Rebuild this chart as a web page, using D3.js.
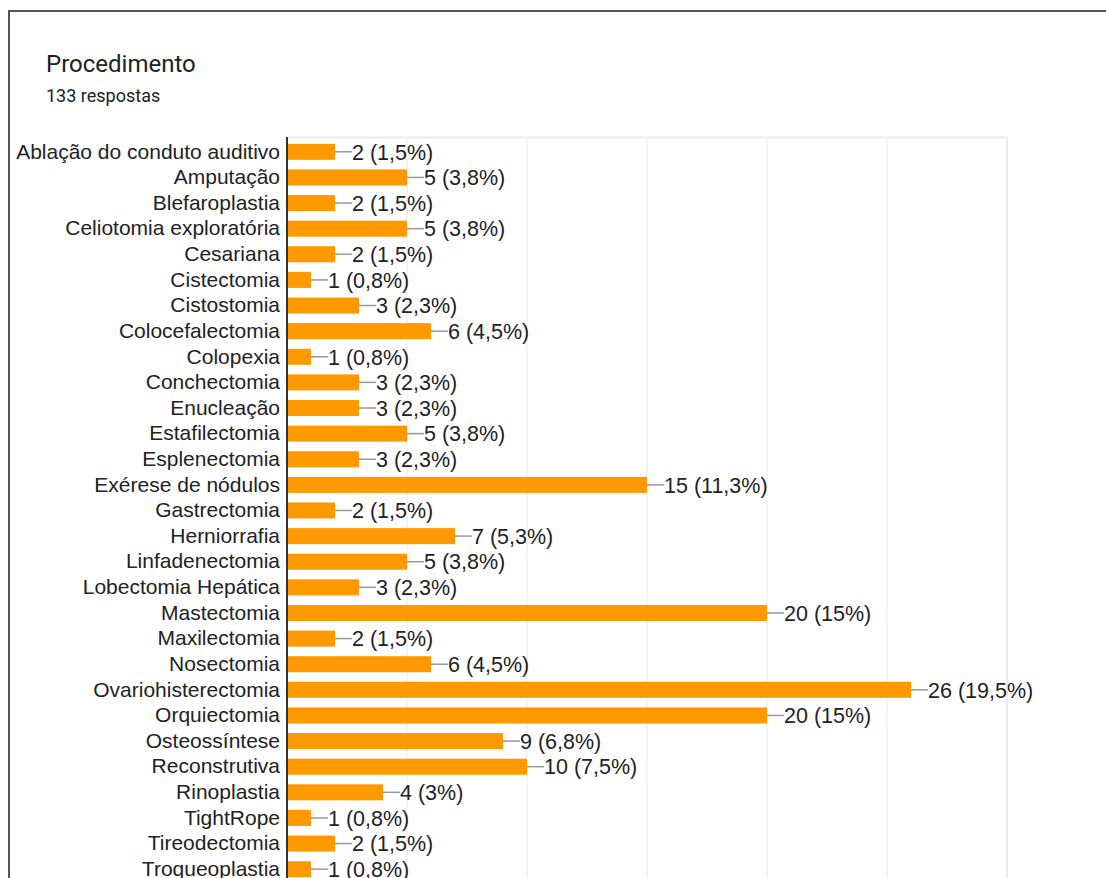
<!DOCTYPE html>
<html><head><meta charset="utf-8">
<script src="https://cdn.jsdelivr.net/npm/d3@7"></script>
<style>
html,body{margin:0;padding:0;background:#fff;overflow:hidden;}
svg{display:block;font-family:"Liberation Sans", Arial, sans-serif;}
</style></head>
<body>
<svg id="c" width="1106" height="878"></svg>
<script>
const categories = ["Ablação do conduto auditivo","Amputação","Blefaroplastia","Celiotomia exploratória","Cesariana","Cistectomia","Cistostomia","Colocefalectomia","Colopexia","Conchectomia","Enucleação","Estafilectomia","Esplenectomia","Exérese de nódulos","Gastrectomia","Herniorrafia","Linfadenectomia","Lobectomia Hepática","Mastectomia","Maxilectomia","Nosectomia","Ovariohisterectomia","Orquiectomia","Osteossíntese","Reconstrutiva","Rinoplastia","TightRope","Tireodectomia","Troqueoplastia"];
const counts = [2,5,2,5,2,1,3,6,1,3,3,5,3,15,2,7,5,3,20,2,6,26,20,9,10,4,1,2,1];
const percentLabels = ["1,5%","3,8%","1,5%","3,8%","1,5%","0,8%","2,3%","4,5%","0,8%","2,3%","2,3%","3,8%","2,3%","11,3%","1,5%","5,3%","3,8%","2,3%","15%","1,5%","4,5%","19,5%","15%","6,8%","7,5%","3%","0,8%","1,5%","0,8%"];
const xTicks = [0,5,10,15,20,25,30];
const title = "Procedimento";
const subtitle = "133 respostas";

const svg = d3.select("#c");
// card border
svg.append("rect").attr("x",9).attr("y",11).attr("width",1200).attr("height",1000)
  .attr("fill","none").attr("stroke","#555").attr("stroke-width",2);
svg.append("text").attr("x",46).attr("y",71.5).text(title)
  .attr("font-family","Roboto, sans-serif").attr("font-size",24).attr("fill","#202124");
svg.append("text").attr("x",46).attr("y",101.5).text(subtitle)
  .attr("font-family","Roboto, sans-serif").attr("font-size",18).attr("fill","#202124");

const x0 = 287, plotTop = 137;
const x = d3.scaleLinear().domain([0,30]).range([x0, x0+720]);
const step = 25.62;
const y = d3.scaleBand().domain(categories).range([plotTop+2, plotTop+2+step*categories.length]).paddingInner(0.375).paddingOuter(0.1875);

const plotBottom = 1000;
// grid
svg.append("g").selectAll("line").data(xTicks.slice(1)).join("line")
  .attr("x1",d=>x(d)).attr("x2",d=>x(d)).attr("y1",plotTop).attr("y2",plotBottom)
  .attr("stroke",d=>d===30?"#eaeaea":"#f1f1f1").attr("stroke-width",d=>d===30?2:1.5);
svg.append("line").attr("x1",x0).attr("x2",x(30)+1).attr("y1",plotTop+0.5).attr("y2",plotTop+0.5)
  .attr("stroke","#ececec").attr("stroke-width",2);

// bars
const g = svg.append("g");
g.selectAll("rect").data(categories).join("rect")
  .attr("x",x0).attr("y",d=>y(d)).attr("height",y.bandwidth())
  .attr("width",(d,i)=>x(counts[i])-x0).attr("fill","#ff9900");
// leader lines
g.selectAll("line.ld").data(categories).join("line").attr("class","ld")
  .attr("x1",(d,i)=>x(counts[i])).attr("x2",(d,i)=>x(counts[i])+17)
  .attr("y1",d=>y(d)+y.bandwidth()/2).attr("y2",d=>y(d)+y.bandwidth()/2)
  .attr("stroke","#999").attr("stroke-width",1.5);
g.selectAll("text.v").data(categories).join("text").attr("class","v")
  .attr("x",(d,i)=>x(counts[i])+17).attr("y",d=>y(d)+y.bandwidth()/2)
  .attr("dy","0.36em").attr("font-size",21.5).attr("fill","#222")
  .text((d,i)=>`${counts[i]} (${percentLabels[i]})`);

// y axis
const yAxis = d3.axisLeft(y).tickSize(0).tickPadding(7);
const ga = svg.append("g").attr("transform",`translate(${x0},0)`).call(yAxis);
ga.select(".domain").remove();
ga.selectAll("text").attr("font-size",21).attr("fill","#222").attr("font-family","'Liberation Sans', Arial, sans-serif");
svg.append("line").attr("x1",x0).attr("x2",x0).attr("y1",plotTop).attr("y2",plotBottom)
  .attr("stroke","#333").attr("stroke-width",2);
</script>
</body></html>
